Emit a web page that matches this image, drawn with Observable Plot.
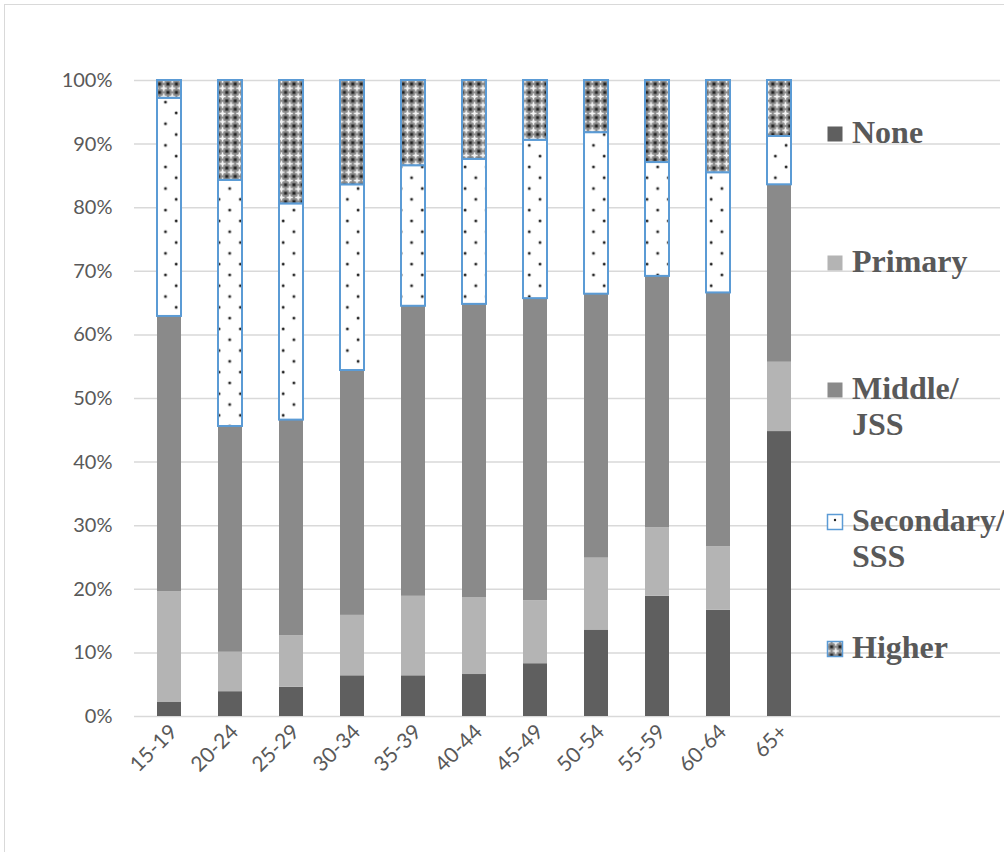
<!DOCTYPE html>
<html>
<head>
<meta charset="utf-8">
<script src="https://cdn.jsdelivr.net/npm/d3@7"></script>
<script src="https://cdn.jsdelivr.net/npm/@observablehq/plot@0.6"></script>
<style>
  html, body { margin: 0; padding: 0; background: #fff; overflow: hidden; }
  #wrap { position: relative; width: 1004px; height: 852px; overflow: hidden; }
  #frame { position: absolute; left: 4px; top: 4px; width: 1100px; height: 1000px;
           border-left: 1.5px solid #d9d9d9; border-top: 1.5px solid #d9d9d9; pointer-events: none; }
  #chart { position: absolute; left: 0; top: 0; }
  #legend { position: absolute; left: 0; top: 0; }
  #chart svg g[aria-label="x-axis tick label"] text { font-size: 21px; }
</style>
</head>
<body>
<div id="wrap">
  <div id="frame"></div>
  <div id="chart"></div>
  <svg id="legend" width="1004" height="852"></svg>
</div>
<script>
// Age groups along the x axis
const ageGroups = ["15-19", "20-24", "25-29", "30-34", "35-39", "40-44", "45-49", "50-54", "55-59", "60-64", "65+"];

// Education levels, bottom to top of each stack
const levels = ["None", "Primary", "Middle/JSS", "Secondary/SSS", "Higher"];
const legendLabels = [["None"], ["Primary"], ["Middle/", "JSS"], ["Secondary/", "SSS"], ["Higher"]];

// Share of each age group (%) by highest level attained
const noneShare      = [2.2, 3.9, 4.6, 6.4, 6.4, 6.6, 8.3, 13.6, 18.9, 16.7, 44.8];
const primaryShare   = [17.4, 6.2, 8.1, 9.5, 12.5, 12.1, 9.9, 11.3, 10.8, 10.0, 10.9];
const middleShare    = [43.3, 35.5, 33.9, 38.5, 45.6, 46.1, 47.5, 41.5, 39.5, 39.9, 27.9];
const secondaryShare = [34.3, 38.7, 34.0, 29.2, 22.1, 22.8, 24.9, 25.4, 17.9, 18.9, 7.6];
const higherShare    = [2.8, 15.7, 19.4, 16.4, 13.4, 12.4, 9.4, 8.2, 12.9, 14.5, 8.8];

// Y axis ticks (%)
const yTicks = [0, 10, 20, 30, 40, 50, 60, 70, 80, 90, 100];

const seriesByLevel = [noneShare, primaryShare, middleShare, secondaryShare, higherShare];

// Fills: solid greys for the lower levels, patterns for the upper two
const fillOf = {
  "None": "#5f5f5f",
  "Primary": "#b4b4b4",
  "Middle/JSS": "#8a8a8a",
  "Secondary/SSS": "url(#pat-dots)",
  "Higher": "url(#pat-cross)"
};
const strokeOf = {
  "None": "none",
  "Primary": "none",
  "Middle/JSS": "none",
  "Secondary/SSS": "#5b9bd5",
  "Higher": "#5b9bd5"
};

const rows = [];
ageGroups.forEach((age, i) => {
  levels.forEach((level, j) => {
    rows.push({age, level, value: seriesByLevel[j][i]});
  });
});

const chart = Plot.plot({
  width: 1004,
  height: 852,
  marginLeft: 134,
  marginRight: 4,
  marginTop: 80,
  marginBottom: 136,
  style: {fontFamily: "Lato, 'Liberation Sans', sans-serif", fontSize: "20px", color: "#595959", background: "transparent", overflow: "visible"},
  x: {domain: ageGroups, range: [133.6, 814.3], paddingInner: 0.612, paddingOuter: 0.306,
      label: null, tickSize: 0, tickRotate: -45, tickPadding: 16},
  y: {domain: [0, 100], label: null, ticks: yTicks, tickFormat: d => d + "%", tickSize: 0, tickPadding: 22},
  marks: [
    Plot.ruleY(yTicks, {stroke: "#d9d9d9", strokeWidth: 1.5}),
    Plot.barY(rows, {
      x: "age", y: "value", z: "level",
      fill: d => fillOf[d.level],
      stroke: d => strokeOf[d.level],
      strokeWidth: 2
    })
  ]
});

document.getElementById("chart").appendChild(chart);

// Nudge the rotated age labels so each one ends just right of its bar centre
d3.select(chart).selectAll('g[aria-label="x-axis tick label"] text').attr("dx", 6);

// Pattern definitions shared by the bars and the legend swatches
const defs = d3.select(chart).insert("defs", ":first-child");

const dots = defs.append("pattern")
  .attr("id", "pat-dots").attr("patternUnits", "userSpaceOnUse")
  .attr("width", 21.4).attr("height", 21.6);
dots.append("rect").attr("width", 21.4).attr("height", 21.6).attr("fill", "#fff");
dots.append("circle").attr("cx", 5).attr("cy", 5).attr("r", 1.9).attr("fill", "#bbb");
dots.append("circle").attr("cx", 5).attr("cy", 5).attr("r", 1.2).attr("fill", "#222");
dots.append("circle").attr("cx", 15.7).attr("cy", 15.8).attr("r", 1.9).attr("fill", "#bbb");
dots.append("circle").attr("cx", 15.7).attr("cy", 15.8).attr("r", 1.2).attr("fill", "#222");

const cross = defs.append("pattern")
  .attr("id", "pat-cross").attr("patternUnits", "userSpaceOnUse")
  .attr("width", 8.4).attr("height", 8.4);
cross.append("rect").attr("width", 8.4).attr("height", 8.4).attr("fill", "#8c8c8c");
[[0, 0], [8.4, 0], [0, 8.4], [8.4, 8.4]].forEach(([cx, cy]) => {
  cross.append("circle").attr("cx", cx).attr("cy", cy).attr("r", 2.2).attr("fill", "#555");
  cross.append("circle").attr("cx", cx).attr("cy", cy).attr("r", 1.2).attr("fill", "#1e1e1e");
});
cross.append("rect").attr("x", 3.5).attr("y", 1.2).attr("width", 1.4).attr("height", 6).attr("fill", "#fff");
cross.append("rect").attr("x", 1.2).attr("y", 3.5).attr("width", 6).attr("height", 1.4).attr("fill", "#fff");
cross.append("circle").attr("cx", 4.2).attr("cy", 4.2).attr("r", 1.5).attr("fill", "#f4f4f4");

// Legend on the right, one entry per level
const legend = d3.select("#legend");
const baselines = [143, 272, 399, 531, 658];
levels.forEach((level, j) => {
  const base = baselines[j];
  const g = legend.append("g");
  g.append("rect")
    .attr("x", 827.5).attr("y", base - 16.5).attr("width", 15).attr("height", 15)
    .attr("fill", fillOf[level] === "url(#pat-dots)" ? "#fff" : fillOf[level])
    .attr("stroke", strokeOf[level]).attr("stroke-width", 1.5);
  if (level === "Secondary/SSS") {
    g.append("circle").attr("cx", 835).attr("cy", base - 11).attr("r", 1.2).attr("fill", "#222");
  }
  const t = g.append("text")
    .attr("x", 852).attr("y", base)
    .attr("fill", "#595959")
    .style("font-family", "'Liberation Serif', 'Times New Roman', serif")
    .style("font-weight", "bold")
    .style("font-size", "32px");
  legendLabels[j].forEach((line, k) => {
    t.append("tspan").attr("x", 852).attr("y", base + k * 36).text(line);
  });
});
</script>
</body>
</html>
